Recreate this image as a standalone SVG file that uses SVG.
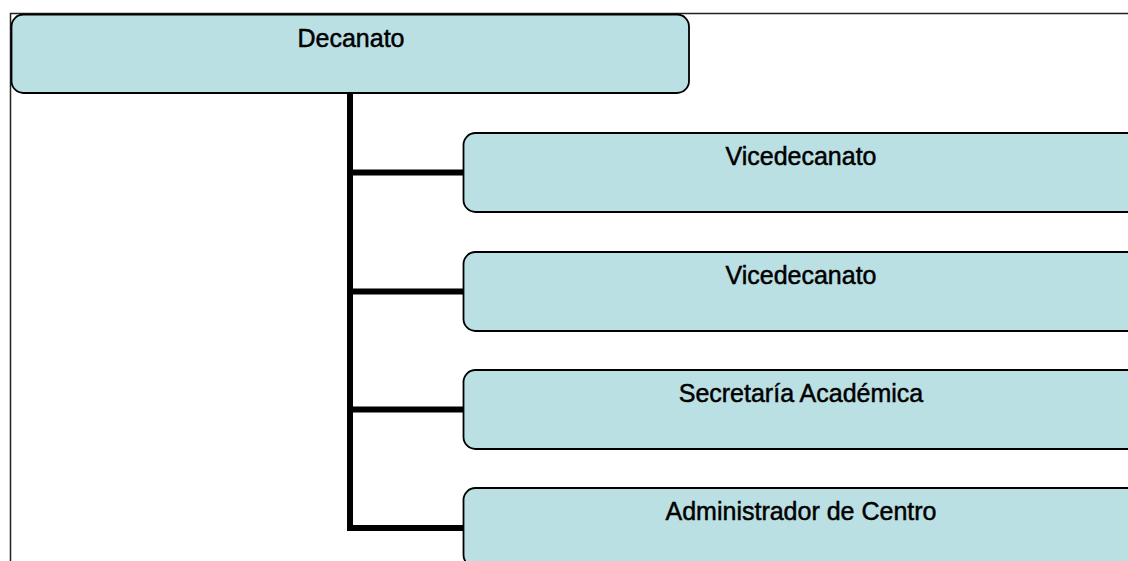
<svg xmlns="http://www.w3.org/2000/svg" width="1128" height="561" viewBox="0 0 1128 561">
  <style>
    .box { fill: #BBE0E3; stroke: #000; stroke-width: 1.8; }
    .lbl { font-family: "Liberation Sans", Arial, sans-serif; font-size: 25px; fill: #000; stroke: #000; stroke-width: 0.5; text-anchor: middle; }
    .conn { fill: none; stroke: #000; stroke-width: 6; stroke-linejoin: miter; stroke-linecap: butt; }
    .frame { fill: none; stroke: #222; stroke-width: 1.5; }
  </style>
  <rect width="1128" height="561" fill="#fff"/>
  <path class="frame" d="M10.5 562 V13.5 H1130"/>
  <g id="connectors">
    <path class="conn" d="M350 93 V528 H464"/>
    <path class="conn" d="M350 172.5 H464"/>
    <path class="conn" d="M350 291.5 H464"/>
    <path class="conn" d="M350 409.5 H464"/>
  </g>
  <g id="decanato">
    <rect class="box" x="11.5" y="14.5" width="677.5" height="78.5" rx="12" ry="12"/>
    <text class="lbl" x="351" y="47">Decanato</text>
  </g>
  <g id="vicedecanato1">
    <rect class="box" x="463.5" y="133" width="676" height="79" rx="12" ry="12"/>
    <text class="lbl" x="801" y="165">Vicedecanato</text>
  </g>
  <g id="vicedecanato2">
    <rect class="box" x="463.5" y="252" width="676" height="79" rx="12" ry="12"/>
    <text class="lbl" x="801" y="284">Vicedecanato</text>
  </g>
  <g id="secretaria">
    <rect class="box" x="463.5" y="370" width="676" height="79" rx="12" ry="12"/>
    <text class="lbl" x="801" y="402">Secretaría Académica</text>
  </g>
  <g id="administrador">
    <rect class="box" x="463.5" y="488" width="676" height="79" rx="12" ry="12"/>
    <text class="lbl" x="801" y="520">Administrador de Centro</text>
  </g>
</svg>
